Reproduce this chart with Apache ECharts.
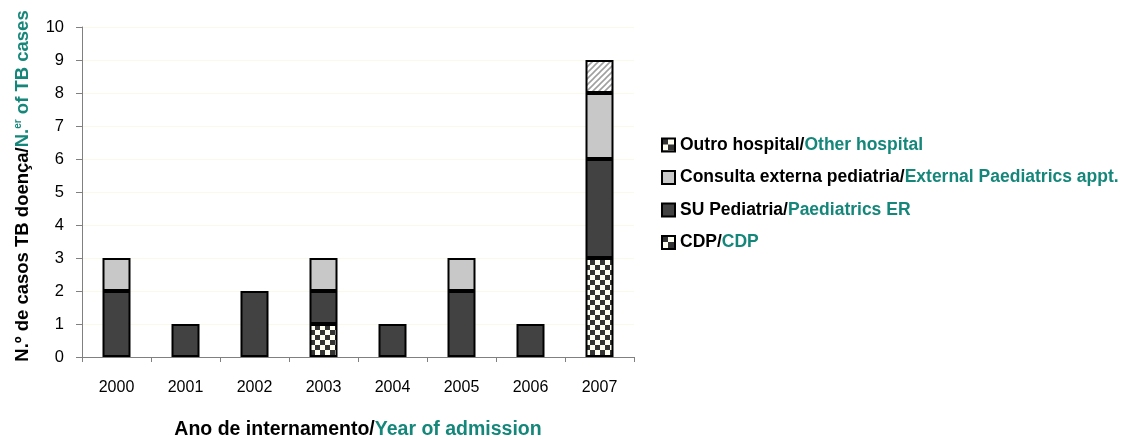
<!DOCTYPE html>
<html>
<head>
<meta charset="utf-8">
<script src="https://cdn.jsdelivr.net/npm/echarts@6/dist/echarts.min.js"></script>
<style>
html, body { margin: 0; padding: 0; background: #fff; }
#chart { width: 1121px; height: 440px; }
</style>
</head>
<body>
<div id="chart"></div>
<script>
var years = ["2000", "2001", "2002", "2003", "2004", "2005", "2006", "2007"];
var cdp = [0, 0, 0, 1, 0, 0, 0, 3];
var suPed = [2, 1, 2, 1, 1, 2, 1, 3];
var consulta = [1, 0, 0, 1, 0, 1, 0, 2];
var outro = [0, 0, 0, 0, 0, 0, 0, 1];
var yTicks = [0, 1, 2, 3, 4, 5, 6, 7, 8, 9, 10];

var TEAL = "#15877a";
var FONT = '"Liberation Sans", Arial, sans-serif';

// checker pattern
function checker(cell, dark, light) {
  var c = document.createElement("canvas");
  c.width = cell * 2; c.height = cell * 2;
  var g = c.getContext("2d");
  g.fillStyle = light; g.fillRect(0, 0, cell * 2, cell * 2);
  g.fillStyle = dark;
  g.fillRect(0, 0, cell, cell);
  g.fillRect(cell, cell, cell, cell);
  return c;
}
// diagonal hatch
function hatch() {
  var c = document.createElement("canvas");
  c.width = 6; c.height = 6;
  var g = c.getContext("2d");
  g.fillStyle = "#ffffff"; g.fillRect(0, 0, 6, 6);
  g.strokeStyle = "#a0a0a0"; g.lineWidth = 1.6;
  g.beginPath();
  g.moveTo(-1, 7); g.lineTo(7, -1);
  g.moveTo(-4, 4); g.lineTo(4, -4);
  g.moveTo(2, 10); g.lineTo(10, 2);
  g.stroke();
  return c;
}

var checkFill = { image: checker(5, "#333333", "#fdfdf0"), repeat: "repeat" };
var legendCheck = { image: checker(6, "#333333", "#fdfdf0"), repeat: "repeat" };
var hatchFill = { image: hatch(), repeat: "repeat" };

function mk(name, data, color) {
  return {
    name: name,
    type: "bar",
    stack: "t",
    barWidth: 28,
    // zero rows are left out so no empty border is drawn
    data: data.map(function (v) { return v === 0 ? "-" : v; }),
    itemStyle: { color: color, borderColor: "#000", borderWidth: 2 },
    emphasis: { disabled: true }
  };
}

var chart = echarts.init(document.getElementById("chart"));
chart.setOption({
  animation: false,
  backgroundColor: "#fff",
  grid: { left: 82, right: 487, top: 27, bottom: 83, containLabel: false, outerBoundsMode: "none" },
  legend: {
    orient: "vertical",
    left: 656,
    top: 131,
    icon: "rect",
    itemWidth: 13,
    itemHeight: 13,
    itemGap: 14.5,
    selectedMode: false,
    textStyle: {
      fontFamily: FONT, fontSize: 17.5, fontWeight: "bold", color: "#000",
      rich: {
        a: { fontFamily: FONT, fontSize: 17.5, fontWeight: "bold", color: "#000", lineHeight: 20 },
        b: { fontFamily: FONT, fontSize: 17.5, fontWeight: "bold", color: TEAL, lineHeight: 20 }
      }
    },
    data: [
      { name: "Outro hospital/Other hospital", itemStyle: { color: legendCheck } },
      { name: "Consulta externa pediatria/External Paediatrics appt." },
      { name: "SU Pediatria/Paediatrics ER" },
      { name: "CDP/CDP", itemStyle: { color: legendCheck } }
    ],
    formatter: function (n) {
      var i = n.indexOf("/");
      return "{a|" + n.slice(0, i + 1) + "}{b|" + n.slice(i + 1) + "}";
    }
  },
  xAxis: {
    type: "category",
    data: years,
    name: "{a|Ano de internamento/}{b|Year of admission}",
    nameLocation: "middle",
    nameGap: 63,
    nameTextStyle: {
      rich: {
        a: { fontFamily: FONT, fontSize: 19.5, fontWeight: "bold", color: "#000" },
        b: { fontFamily: FONT, fontSize: 19.5, fontWeight: "bold", color: TEAL }
      }
    },
    axisLine: { lineStyle: { color: "#808080", width: 1 } },
    axisTick: { show: true, length: 5, lineStyle: { color: "#808080" } },
    axisLabel: { fontFamily: FONT, fontSize: 16, color: "#000", margin: 23 },
    splitLine: { show: false }
  },
  yAxis: {
    type: "value",
    min: yTicks[0],
    max: yTicks[yTicks.length - 1],
    interval: 1,
    name: "{a|N.º de casos TB doença/}{b|N.}{s|er}{b| of TB cases}",
    nameLocation: "middle",
    nameGap: 50,
    nameTextStyle: {
      padding: [0, 0, 0, 12],
      rich: {
        a: { fontFamily: FONT, fontSize: 18.5, fontWeight: "bold", color: "#000" },
        b: { fontFamily: FONT, fontSize: 18.5, fontWeight: "bold", color: TEAL },
        s: { fontFamily: FONT, fontSize: 10, fontWeight: "bold", color: TEAL, verticalAlign: "top", padding: [0, 0, 8, 0] }
      }
    },
    axisLine: { show: true, lineStyle: { color: "#808080", width: 1 } },
    axisTick: { show: true, length: 6, lineStyle: { color: "#808080" } },
    axisLabel: { fontFamily: FONT, fontSize: 16.5, color: "#000", margin: 18 },
    splitLine: { show: true, lineStyle: { color: "#fbf9ea", width: 1 } }
  },
  series: [
    mk("CDP/CDP", cdp, checkFill),
    mk("SU Pediatria/Paediatrics ER", suPed, "#424242"),
    mk("Consulta externa pediatria/External Paediatrics appt.", consulta, "#c8c8c8"),
    mk("Outro hospital/Other hospital", outro, hatchFill)
  ]
});
</script>
</body>
</html>
